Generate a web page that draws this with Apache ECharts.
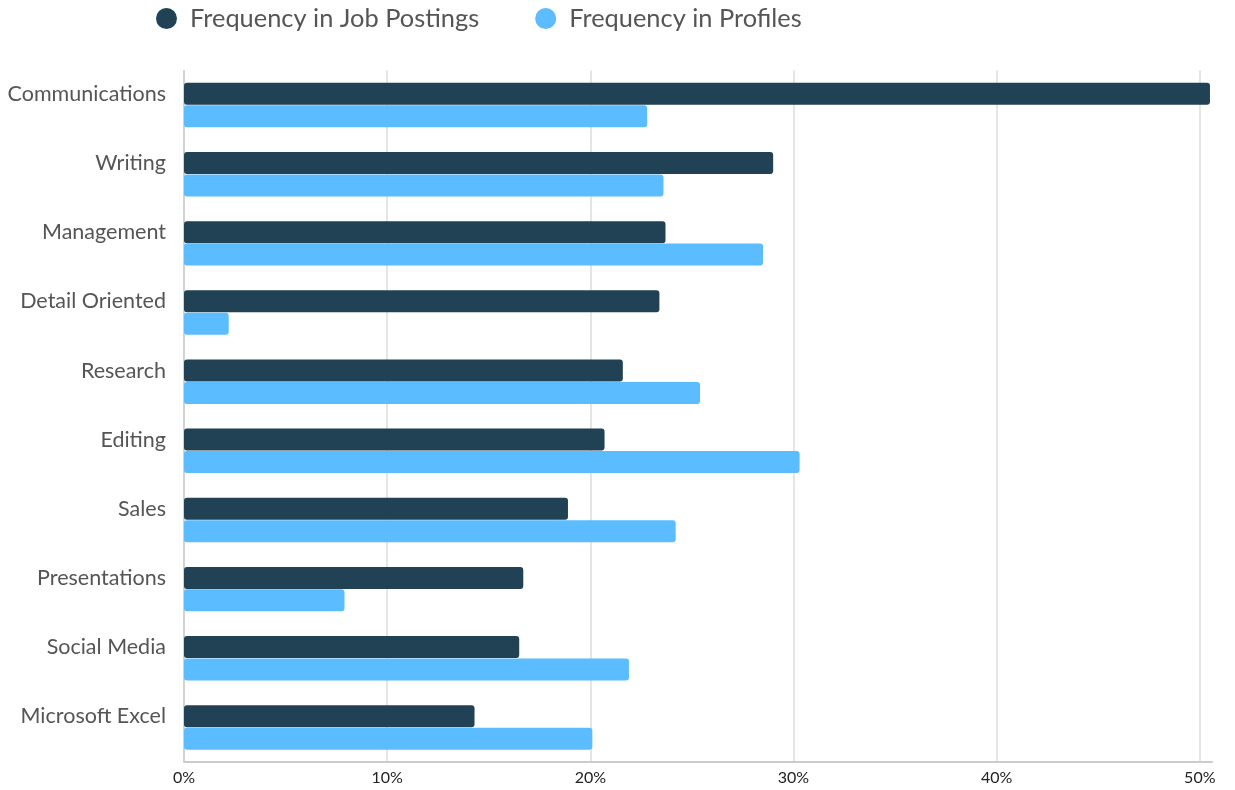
<!DOCTYPE html>
<html><head><meta charset="utf-8">
<script src="https://cdn.jsdelivr.net/npm/echarts@6/dist/echarts.min.js"></script>
<style>html,body{margin:0;padding:0;background:#fff}#c{width:1235px;height:790px}</style>
</head><body><div id="c"></div>
<script>
const categories = ["Communications","Writing","Management","Detail Oriented","Research","Editing","Sales","Presentations","Social Media","Microsoft Excel"];
const jobPostings = [50.5,29.0,23.7,23.4,21.6,20.7,18.9,16.7,16.5,14.3];
const profiles = [22.8,23.6,28.5,2.2,25.4,30.3,24.2,7.9,21.9,20.1];
const xTicks = [0,10,20,30,40,50];

const chart = echarts.init(document.getElementById('c'));
chart.setOption({
  animation:false,
  textStyle:{fontFamily:'Lato'},
  legend:{
    top:1,left:151,itemGap:56,icon:'circle',itemWidth:21,itemHeight:21,
    textStyle:{fontSize:25.4,color:'#555',fontFamily:'Lato',padding:[0,0,0,8]},
    data:['Frequency in Job Postings','Frequency in Profiles']
  },
  grid:{left:184,right:23,top:70.5,bottom:28,containLabel:false},
  xAxis:{
    type:'value',min:0,max:50.6,interval:10,
    axisLine:{show:true,lineStyle:{color:'#ccc',width:2}},
    axisTick:{show:false},
    splitLine:{show:true,showMaxLine:false,lineStyle:{color:'#ddd',width:1.5}},
    axisLabel:{fontSize:16,color:'#222',margin:8,showMaxLabel:false,
      formatter:v=>xTicks.includes(Math.round(v*10)/10)?v+'%':''}
  },
  yAxis:{
    type:'category',inverse:true,data:categories,
    axisLine:{show:true,lineStyle:{color:'#ccc',width:1.5}},
    axisTick:{show:false},
    axisLabel:{fontSize:21.5,color:'#555',margin:18,fontFamily:'Lato',verticalAlign:'bottom',lineHeight:22}
  },
  series:[
    {name:'Frequency in Job Postings',type:'bar',data:jobPostings,barWidth:22,barGap:'2%',
     itemStyle:{color:'#204254',borderRadius:3}},
    {name:'Frequency in Profiles',type:'bar',data:profiles,barWidth:22,
     itemStyle:{color:'#5bbcff',borderRadius:3}}
  ]
});
</script></body></html>
